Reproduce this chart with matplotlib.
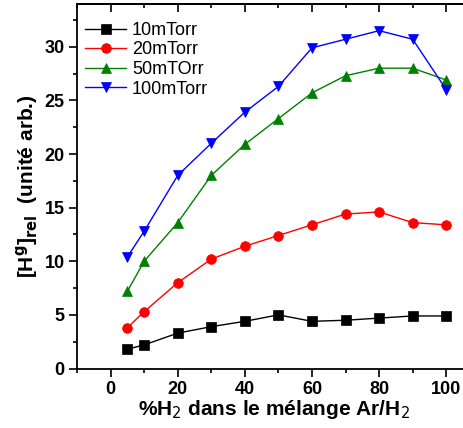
import matplotlib
matplotlib.use("Agg")
import matplotlib.pyplot as plt
from matplotlib.ticker import MultipleLocator

plt.rcParams["font.family"] = ["Liberation Sans", "DejaVu Sans"]

h2_pct = [5, 10, 20, 30, 40, 50, 60, 70, 80, 90, 100]
p10 = [1.8, 2.2, 3.3, 3.9, 4.4, 5.0, 4.4, 4.5, 4.7, 4.9, 4.9]
p20 = [3.8, 5.3, 8.0, 10.2, 11.4, 12.4, 13.4, 14.4, 14.6, 13.6, 13.4]
p50 = [7.2, 10.0, 13.6, 18.0, 20.9, 23.3, 25.7, 27.3, 28.0, 28.0, 26.9]
p100 = [10.4, 12.8, 18.0, 21.0, 23.9, 26.3, 29.9, 30.7, 31.5, 30.7, 26.0]

series = [
    ("10mTorr", p10, "black", "s"),
    ("20mTorr", p20, "red", "o"),
    ("50mTOrr", p50, "green", "^"),
    ("100mTorr", p100, "blue", "v"),
]

fig = plt.figure(figsize=(4.64, 4.28), dpi=100)
ax = fig.add_axes([0.166, 0.139, 0.85, 0.852])

for lab, vals, col, mk in series:
    ax.plot(h2_pct, vals, color=col, marker=mk, markersize=7, lw=1.0,
            markeredgewidth=0.5, label=lab)

ax.set_xlim(-10, 107.5)
ax.set_ylim(0, 34)
ax.xaxis.set_major_locator(MultipleLocator(20))
ax.xaxis.set_minor_locator(MultipleLocator(10))
ax.yaxis.set_major_locator(MultipleLocator(5))
ax.yaxis.set_minor_locator(MultipleLocator(2.5))
ax.spines["right"].set_visible(False)
for s in ax.spines.values():
    s.set_linewidth(1.3)
ax.tick_params(which="both", direction="out", top=False, right=False, width=1.2)
ax.tick_params(which="major", length=6, labelsize=13, pad=3)
ax.tick_params(which="minor", length=3)
for t in ax.get_xticklabels() + ax.get_yticklabels():
    t.set_fontweight("bold")

# inward ticks on the top edge
top = ax.secondary_xaxis("top")
top.xaxis.set_major_locator(MultipleLocator(20))
top.xaxis.set_minor_locator(MultipleLocator(10))
top.tick_params(which="both", direction="in", width=1.2, labeltop=False)
top.tick_params(which="major", length=6)
top.tick_params(which="minor", length=3)
top.spines["top"].set_linewidth(1.3)

ax.set_xlabel("%H$_2$ dans le mélange Ar/H$_2$", fontsize=15,
              fontweight="bold", labelpad=0)
ax.set_ylabel("[H$^\\mathbf{g}$]$_\\mathbf{rel}$  (unité arb.)", fontsize=15,
              fontweight="bold", labelpad=3)

ax.legend(loc="upper left", bbox_to_anchor=(-0.012, 0.985), frameon=False,
          fontsize=13, handlelength=2.3, labelspacing=0.14, borderaxespad=0.4,
          handletextpad=0.3, borderpad=0.3)

fig.savefig("out.png", dpi=100)
